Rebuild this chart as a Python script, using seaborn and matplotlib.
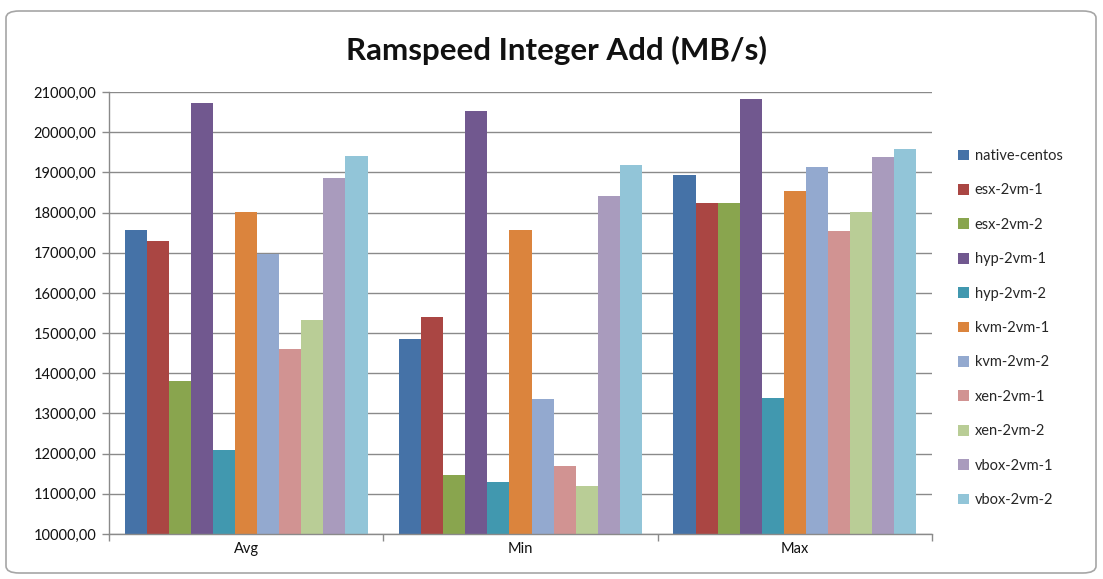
import matplotlib
matplotlib.use("Agg")
import matplotlib.pyplot as plt
from matplotlib.patches import FancyBboxPatch
from matplotlib.ticker import FuncFormatter, FixedLocator
import seaborn as sns
import pandas as pd

# Benchmark results (MB/s) per configuration, for the Avg / Min / Max statistics
metrics = ["Avg", "Min", "Max"]
series = ["native-centos", "esx-2vm-1", "esx-2vm-2", "hyp-2vm-1", "hyp-2vm-2",
          "kvm-2vm-1", "kvm-2vm-2", "xen-2vm-1", "xen-2vm-2", "vbox-2vm-1", "vbox-2vm-2"]
avg_vals = [17555, 17280, 13820, 20726, 12083, 18011, 16957, 14607, 15330, 18850, 19406]
min_vals = [14865, 15396, 11477, 20518, 11303, 17555, 13362, 11693, 11195, 18410, 19190]
max_vals = [18941, 18235, 18235, 20834, 13395, 18526, 19124, 17530, 18003, 19373, 19589]
colors = ["#4572A7", "#AA4643", "#89A54E", "#71588F", "#4198AF", "#DB843D",
          "#93A9CF", "#D19392", "#B9CD96", "#A99BBD", "#92C5D8"]

rows = []
for metric, vals in zip(metrics, [avg_vals, min_vals, max_vals]):
    for name, v in zip(series, vals):
        rows.append({"metric": metric, "series": name, "value": v})
df = pd.DataFrame(rows)

sns.set_theme(style="white")
plt.rcParams["font.family"] = ["Lato", "DejaVu Sans"]

fig = plt.figure(figsize=(11.03, 5.79), dpi=100)
ax = fig.add_axes([109 / 1103, 45 / 579, 823 / 1103, 442 / 579])

sns.barplot(data=df, x="metric", y="value", hue="series", order=metrics,
            hue_order=series, palette=colors, width=0.885, gap=0,
            saturation=1, linewidth=0, ax=ax, legend=True)

ax.set_ylim(10000, 21000)
ax.set_xlim(-0.5, 2.5)
ax.yaxis.set_major_locator(FixedLocator(list(range(10000, 21001, 1000))))
ax.yaxis.set_major_formatter(FuncFormatter(lambda v, p: f"{v:.2f}".replace(".", ",")))
ax.grid(axis="y", color="#8a8a8a", linewidth=1.0)
ax.set_axisbelow(True)
ax.set_xlabel("")
ax.set_ylabel("")

for side in ["top", "right"]:
    ax.spines[side].set_visible(False)
for side in ["left", "bottom"]:
    ax.spines[side].set_color("#8a8a8a")
    ax.spines[side].set_linewidth(1.0)

ax.tick_params(axis="y", which="major", direction="out", length=5, width=1,
               color="#8a8a8a", labelsize=10.5, labelcolor="#111111", pad=4, left=True)
ax.tick_params(axis="x", which="major", length=0, labelsize=10.5,
               labelcolor="#111111", pad=6)
# separator ticks between category groups
ax.set_xticks([-0.5, 0.5, 1.5, 2.5], minor=True)
ax.tick_params(axis="x", which="minor", direction="out", length=5, width=1,
               color="#8a8a8a", bottom=True)

handles, labels = ax.get_legend_handles_labels()
ax.legend(handles, labels, loc="upper left", bbox_to_anchor=(958 / 1103, 1 - 149 / 579),
          bbox_transform=fig.transFigure, frameon=False, fontsize=10.5,
          handlelength=0.75, handleheight=0.75, handletextpad=0.4,
          labelspacing=1.4, borderaxespad=0, borderpad=0)

fig.text(556 / 1103, 1 - 50 / 579, "Ramspeed Integer Add (MB/s)", ha="center",
         va="center", fontsize=22.5, fontweight="bold", color="#111111")

# chart area border
border = FancyBboxPatch((6 / 1103, 6 / 579), 1090 / 1103, 562 / 579,
                        boxstyle="round,pad=0,rounding_size=0.012",
                        transform=fig.transFigure, facecolor="none",
                        edgecolor="#a6a6a6", linewidth=1.2)
fig.patches.append(border)

fig.savefig("out.png", dpi=100, facecolor="white")
